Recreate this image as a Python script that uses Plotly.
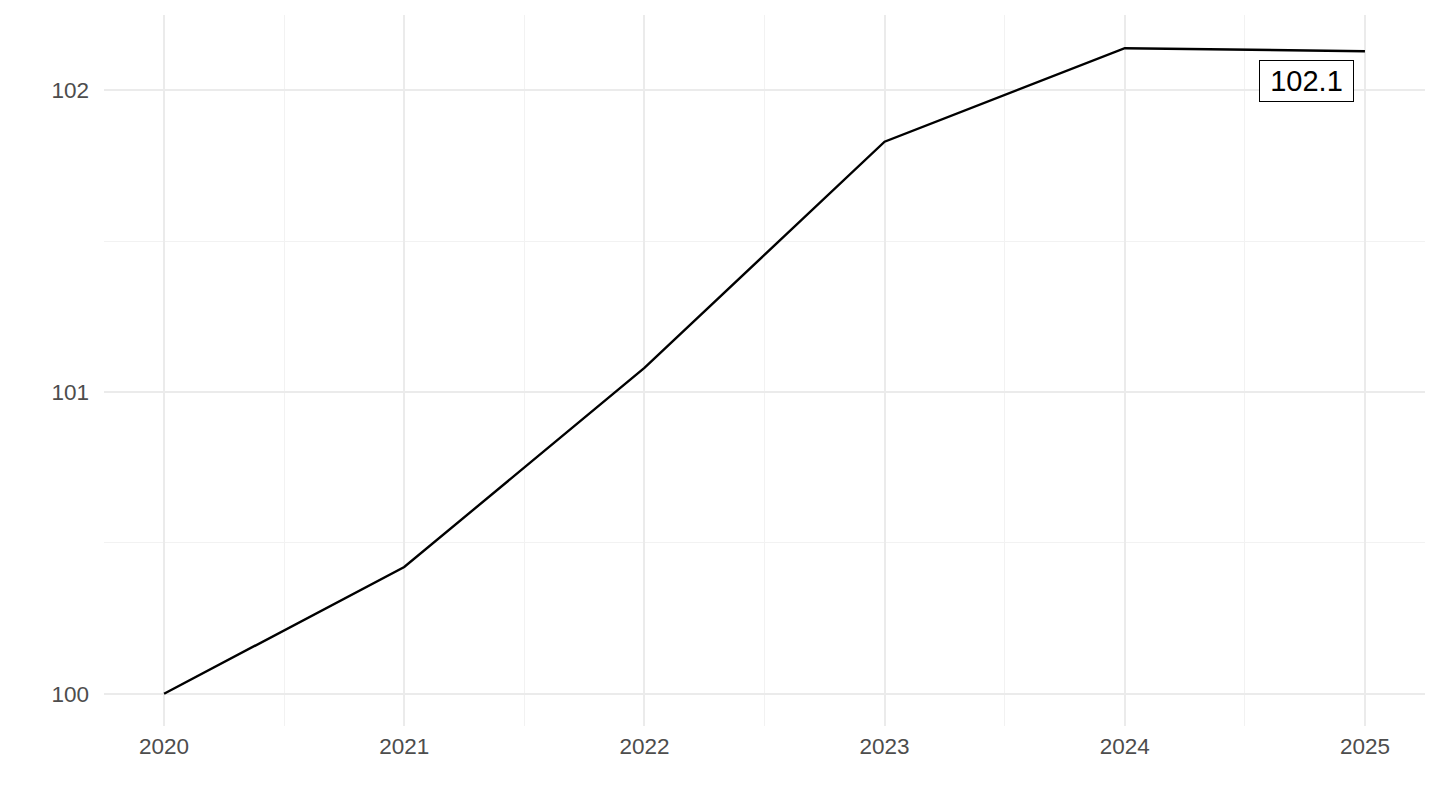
import plotly.graph_objects as go

years = [2020, 2021, 2022, 2023, 2024, 2025]
index_values = [100.0, 100.42, 101.08, 101.83, 102.14, 102.13]

x_ticks = [2020, 2021, 2022, 2023, 2024, 2025]
y_ticks = [100, 101, 102]

grid_major = "#EBEBEB"
grid_minor = "#F2F2F2"
tick_color = "#4D4D4D"

fig = go.Figure()
fig.add_trace(go.Scatter(x=years, y=index_values, mode="lines",
                         line=dict(color="black", width=2.4),
                         showlegend=False, hoverinfo="x+y"))

# label for last value, like geom_label
fig.add_annotation(x=years[-1], y=index_values[-1],
                   text=f"{index_values[-1]:.1f}",
                   xanchor="right", yanchor="top",
                   xshift=-11, yshift=-9, showarrow=False,
                   width=85,
                   font=dict(size=29, color="black"),
                   bgcolor="white", bordercolor="black",
                   borderwidth=1, borderpad=4)

# page body has an 8px margin, so the margins are shifted by that amount
fig.update_layout(
    width=1440, height=810,
    margin=dict(l=96, r=23, t=7, b=92),
    plot_bgcolor="white", paper_bgcolor="white",
    font=dict(family="Liberation Sans, Arial, sans-serif", size=22.5, color=tick_color),
)
fig.update_xaxes(range=[2019.75, 2025.25], tickvals=x_ticks,
                 showgrid=True, gridcolor=grid_major, gridwidth=2,
                 minor=dict(dtick=0.5, tick0=2019.5, showgrid=True,
                            gridcolor=grid_minor, gridwidth=1.3),
                 zeroline=False, showline=False, ticks="",
                 ticklabelstandoff=4)
fig.update_yaxes(range=[99.893, 102.25], tickvals=y_ticks,
                 showgrid=True, gridcolor=grid_major, gridwidth=2,
                 minor=dict(dtick=0.5, tick0=99.5, showgrid=True,
                            gridcolor=grid_minor, gridwidth=1.3),
                 zeroline=False, showline=False, ticks="",
                 ticklabelstandoff=14)

fig.write_html("out.html")
